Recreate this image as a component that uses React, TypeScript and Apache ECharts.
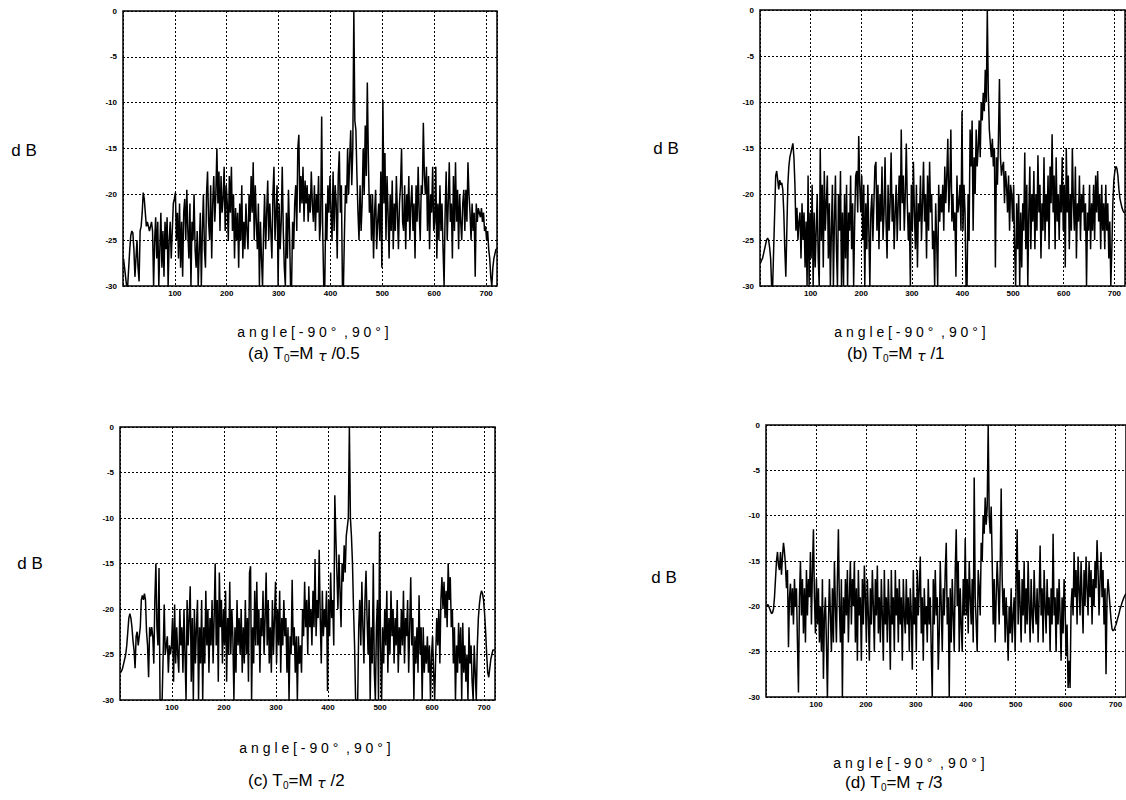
import React, { useEffect, useRef } from "react";
import * as echarts from "echarts";

// sample index of the first point and spacing between samples
const X_START = 1;
const STEP = 2;

const yTicks = [0, -5, -10, -15, -20, -25, -30];
const xTickLabels = [100, 200, 300, 400, 500, 600, 700];

const dbLabel = "d B";
const angleLabel = "a n g l e [ - 9 0 °  , 9 0 ° ]";
const captions = [
  { head: "(a) T", sub: "0", tail: "=M ", tau: "τ", end: " /0.5" },
  { head: "(b) T", sub: "0", tail: "=M ", tau: "τ", end: " /1" },
  { head: "(c) T", sub: "0", tail: "=M ", tau: "τ", end: " /2" },
  { head: "(d) T", sub: "0", tail: "=M ", tau: "τ", end: " /3" },
];

const seriesA = [
  -27, -28, -29, -30, -30, -28, -26, -24.5, -24, -24.2, -26, -29, -27, -25, -28, -29.5, -24, -23.5, -22, -19.8,
  -20.5, -22, -23.5, -23, -23.5, -24, -23.5, -23, -24, -30, -25, -22.5, -27, -23, -30, -26, -22, -28, -24, -29,
  -23, -26, -22.5, -30, -25, -23, -27, -24, -21, -20.5, -19.8, -25, -22, -27, -21, -28, -23, -29, -22, -20.5,
  -25, -19.5, -24, -27, -21, -30, -23, -25, -20, -26, -28, -24, -30, -26, -22, -30, -24, -20, -26, -28,
  -20, -17.5, -23, -25, -19, -27, -21, -18, -23, -20, -15, -21, -17.5, -24, -18, -22, -20.5, -17, -24, -19,
  -21, -25, -18, -22, -17, -24, -20, -27, -21.5, -25, -22, -28, -21, -25, -19, -27, -23, -26, -21, -24,
  -26, -20, -23, -18, -22, -16.5, -25, -19, -23, -26, -21, -30, -23, -27, -30, -24, -20, -26, -22, -18.5,
  -25, -21, -24, -27, -20, -17, -25, -22, -19, -30, -21, -26, -23, -17, -24, -28, -30, -22, -27, -19.5,
  -24, -30, -30, -23, -26, -21, -19, -24, -15, -13.5, -22, -18, -21, -17, -23, -18.5, -21, -19, -23, -20,
  -22, -17.5, -21, -23, -19, -24, -20, -22, -18, -25, -23, -11.5, -24, -30, -30, -21, -25, -19, -22, -18,
  -22, -25, -17.5, -24, -19, -21, -27, -18, -15.3, -22, -19, -30, -30, -24, -19, -21, -15, -20, -16, -13,
  -19, -15, 0, -12, -13, -18, -22, -25, -19, -24, -21, -15, -20, -12.5, -18, -7.8, -16, -22, -20, -25,
  -20, -27, -22, -19.5, -26, -23, -21, -25, -17.5, -28, -9.7, -21, -15.5, -25, -18, -22, -27, -20, -24, -18.5,
  -26, -21, -24, -18, -22, -26, -21, -19, -15, -23, -24, -19, -26, -20, -23, -18, -25, -21, -19, -24,
  -21, -27, -19, -23, -17, -22, -25, -19, -20, -12.2, -18, -20, -17, -24, -18, -26, -20, -22, -17, -24,
  -23, -17, -27, -21, -25, -19, -24, -21, -26, -30, -22, -17.5, -25, -21, -16.5, -23, -21, -27, -18, -24,
  -16.5, -23, -19.5, -26, -20, -23, -25, -21, -19.5, -24, -19.5, -23, -16.5, -20, -22, -25, -21, -24, -22, -29,
  -21, -23, -21.5, -22, -22.5, -21.5, -23, -22, -24, -23.5, -25, -24, -26, -27, -29, -30, -28, -27, -26.5, -26,
  -26,
];

const seriesB = [
  -27.5, -27.2, -27, -26.5, -26, -25.5, -25, -24.8, -25, -25.8, -27, -30, -30, -26, -22, -18, -17.5, -18.5, -19.5, -18.5,
  -19, -18.8, -19.5, -22, -26, -29, -24, -19, -17, -16, -15.5, -15, -14.5, -16, -19, -24, -21.5, -25, -23, -22,
  -27, -21, -25, -22, -28, -23, -30, -18, -30, -22, -27, -19, -30, -22, -28, -24, -20, -27, -30, -15,
  -25, -19, -28, -17.5, -24, -21, -18, -27, -21, -30, -24, -19, -30, -23, -18, -26, -30, -20, -24, -17.5,
  -30, -22, -30, -20, -27, -19, -30, -22, -24, -18, -26, -21, -30, -23, -18, -17.5, -22, -13.7, -19, -22,
  -18, -25, -19, -30, -21, -26, -19, -24, -30, -22, -20, -25, -21, -17, -16.5, -24, -19, -26, -20, -23,
  -17, -25, -22, -16, -23, -27, -19, -24, -21, -15.5, -23, -20, -26, -22, -19, -25, -21, -18, -24, -13,
  -21, -18, -24, -20, -14.5, -21, -25, -22, -30, -19, -24, -16.5, -22, -26, -19, -28, -21, -23, -18, -25,
  -21, -16.5, -23, -20, -27, -18, -24, -16.5, -22, -20, -26, -24, -30, -21, -25, -30, -19, -23, -20, -22,
  -19, -24, -17, -21, -18, -14, -22, -19, -13, -23, -20, -24, -22, -29, -18, -22, -21, -19, -24, -11,
  -24, -19, -22, -30, -30, -20, -25, -13, -17, -12, -24, -16, -20, -13, -17, -15, -12, -16, -10, -12,
  -9, -11, -6.5, -10, 0, -9, -13, -14.5, -16, -14, -17, -15, -28, -16, -19, -14, -7.5, -16, -18, -17,
  -16.5, -21, -17.5, -19, -22, -18, -24, -19, -20, -23, -19, -26, -30, -21, -26, -20, -30, -22, -28, -21,
  -24, -15.5, -26, -19, -30, -22, -17, -26, -20, -23, -17.5, -26, -20, -24, -15.8, -22, -19, -27, -21, -24,
  -16, -25, -20, -23, -18, -26, -17, -21, -13.5, -22, -18, -26, -16, -23, -20, -25, -19, -22, -16, -24,
  -19, -28, -15, -22, -18, -26, -20, -24, -15, -21, -24, -17, -27, -21, -23, -18, -25, -20, -22, -19,
  -24, -21, -30, -22, -24, -19, -26, -21, -24, -19, -25, -18, -22, -17.5, -23, -20, -26, -19, -24, -21,
  -26, -19, -24, -21, -27, -23, -30, -26, -21, -18.5, -17.5, -17, -17.2, -18, -19.5, -20.5, -21, -21.5, -21.8, -22,
  -22,
];

const seriesC = [
  -27, -26.8, -26.5, -26, -25.5, -25, -24, -22.5, -21, -20.5, -21, -22, -23.5, -24.5, -26.5, -23, -22.5, -24, -23, -22,
  -19, -18.5, -19, -18.3, -19, -22.5, -24, -27.5, -22, -23, -22, -23, -26, -19, -15, -22, -24, -15.5, -30, -30,
  -30, -25, -19.5, -25, -24, -23, -27, -24, -25, -24, -21, -28, -19.5, -26, -22, -25, -27, -20, -24, -22,
  -27, -20, -25, -30, -19, -24, -21, -17.5, -28, -21, -30, -20, -26, -22, -19, -30, -22, -26, -19, -30,
  -22, -26, -18, -24, -20, -27, -21, -24, -19, -26, -21, -15, -24, -19, -28, -16, -22, -19, -26, -20,
  -24, -18, -28, -21, -25, -17, -25, -20, -23, -30, -22, -27, -19, -24, -21, -25, -20, -27, -22, -26,
  -19, -25, -21, -28, -16, -15.3, -30, -22, -26, -18, -24, -17, -24, -20, -27, -21, -23, -18, -25, -21,
  -16, -24, -19, -26, -22, -27, -19, -25, -21, -17, -26, -20, -24, -18, -27, -21, -24, -19, -23, -21,
  -27, -22, -30, -23, -25, -16.8, -24, -22, -27, -23, -30, -23, -26, -24, -27, -20, -23, -17, -22, -19,
  -25, -17.5, -22, -20, -24, -18, -22, -14.5, -23, -19, -21, -13.5, -21, -26, -18, -23, -20, -22, -18, -29,
  -19, -23, -16, -21, -19, -24, -7.5, -12, -16, -20, -14, -18, -22, -15, -17, -13, -16, -12, -11, -10,
  0, -10, -12, -15, -20, -24, -30, -30, -30, -22, -19, -24, -17, -22, -26, -19, -15.8, -21, -25, -19,
  -30, -22, -26, -15, -27, -30, -22, -19, -30, -11.5, -24, -30, -22, -26, -20, -24, -18, -27, -21, -25,
  -18, -23, -20, -26, -21, -24, -19, -27, -22, -25, -20, -24, -18, -26, -21, -23, -19, -27, -22, -16.5,
  -24, -21, -30, -23, -26, -22, -27, -18.5, -25, -22, -30, -22, -27, -24, -26, -23, -27, -24, -30, -25,
  -23, -27, -30, -25, -21, -24, -20, -26, -19, -16.5, -20, -17, -21, -18, -22, -15, -19, -16.5, -22, -20,
  -26, -22, -30, -24, -27, -21.5, -26, -22, -30, -21.5, -27, -24, -28, -25, -30, -22, -26, -24, -28, -30,
  -24, -27, -30, -24, -21, -19.5, -18.5, -18, -18.3, -19, -20.5, -22.5, -25, -27, -27.5, -26.5, -25.5, -25, -24.5, -24.5,
  -24.5,
];

const seriesD = [
  -20, -19.8, -19.9, -20.2, -20.5, -20.8, -20.7, -20.3, -19, -17, -15, -14, -15.5, -16, -14, -16.5, -14.5, -13, -14, -15.5,
  -18, -16, -24.5, -19, -17.5, -21, -18, -22, -17, -20, -18, -24, -29.5, -19, -15, -21, -17, -23, -18, -24,
  -16, -21, -17, -19, -14, -22, -16, -11.5, -19, -23, -17, -22, -18, -24, -20, -25, -17, -28, -21, -19,
  -24, -30, -22, -17, -21, -25, -18, -24, -15, -20, -24, -17, -11.5, -20, -24, -17, -30, -19, -23, -17,
  -21, -16, -24, -19, -15, -22, -17, -20, -15, -24, -18, -26, -16, -21, -19, -26, -17, -22, -15.5, -19,
  -24, -17, -21, -26, -18, -22, -16, -20, -25, -17, -21, -15.5, -23, -19, -24, -17, -21, -26, -16, -22,
  -19, -24, -17, -21, -27, -16, -22, -19, -25, -16, -21, -18, -24, -17, -22, -19, -26, -17, -21, -23,
  -17, -22, -19, -25, -18, -21, -27, -16, -22, -19, -25, -16, -21, -18, -14.5, -23, -19, -26, -18, -22,
  -20, -24, -17, -22, -19, -25, -30, -17, -22, -16, -21, -19, -27, -23, -15, -20, -25, -18, -21, -16,
  -13, -22, -19, -30, -18, -24, -17, -21, -25, -16, -11.5, -20, -15, -25, -18, -22, -25, -17, -21, -12.5,
  -21, -17, -23, -15, -19, -22, -17, -24, -5.8, -19, -22, -25, -16, -18, -21, -13, -15, -10, -12, -8,
  -11, -9, 0, -10, -12, -9, -15, -22, -17, -24, -19, -15, -18, -22, -16, -7, -17, -21, -18, -24,
  -19, -22, -26, -20, -23, -18, -24, -21, -19, -25, -17, -11.5, -22, -16, -20, -24, -17, -21, -15, -23,
  -18, -22, -15, -20, -24, -17, -21, -23, -16, -20, -22, -18, -24, -19, -13.3, -21, -18, -24, -16, -20,
  -23, -17, -21, -19, -25, -18, -22, -12, -21, -19, -25, -18, -22, -17, -21, -26, -19, -23, -17, -20,
  -25.5, -22, -29, -26, -29, -20, -18, -21, -14, -19, -16, -22, -14.5, -18, -21, -15, -19, -23, -16, -20,
  -14.5, -18, -21, -15, -19, -16, -22, -17, -20, -15, -18, -12.7, -16, -21, -17, -14, -19, -16, -22, -18,
  -27.5, -19, -17, -18.5, -20, -21.5, -22.5, -22.7, -22.6, -22.3, -22, -21.6, -21.2, -20.8, -20.3, -20, -19.6, -19.3, -19, -18.8,
  -18.6,
];

const allSeries = [seriesA, seriesB, seriesC, seriesD];

// layout of each panel (pixels)
const layouts = [
  { grid: { left: 123, top: 11, width: 374, height: 275 }, db: [24, 150], angle: [313, 332], cap: [248, 353] },
  { grid: { left: 760, top: 10, width: 365, height: 276 }, db: [666, 148], angle: [910, 332], cap: [847, 353] },
  { grid: { left: 120, top: 427, width: 375, height: 273 }, db: [30, 563], angle: [315, 748], cap: [248, 780] },
  { grid: { left: 766, top: 425, width: 360, height: 272 }, db: [664, 577], angle: [909, 763], cap: [845, 782] },
];

const toPairs = (ys: number[]) => ys.map((y, i) => [X_START + i * STEP, y]);

export default function App() {
  const ref = useRef<HTMLDivElement>(null);
  useEffect(() => {
    const chart = echarts.init(ref.current!, null, { renderer: "svg" });
    const labelFont = { color: "#000", fontSize: 8, fontWeight: "bold" as const, fontFamily: "Liberation Sans, Arial, sans-serif" };
    const grids = layouts.map((l) => ({
      ...l.grid,
      show: true,
      borderColor: "#000",
      borderWidth: 1.5,
      backgroundColor: "transparent",
      containLabel: false,
    }));
    const xAxes = layouts.map((_, i) => ({
      type: "value" as const,
      gridIndex: i,
      min: 0,
      max: 721,
      interval: 100,
      axisLine: { show: false },
      axisTick: { show: false },
      axisLabel: {
        ...labelFont,
        margin: 3,
        showMinLabel: false,
        showMaxLabel: false,
        formatter: (v: number) => (xTickLabels.includes(v) ? String(v) : ""),
      },
      splitLine: { show: true, lineStyle: { color: "#000", type: [2, 2], width: 1 } },
    }));
    const yAxes = layouts.map((_, i) => ({
      type: "value" as const,
      gridIndex: i,
      min: yTicks[yTicks.length - 1],
      max: yTicks[0],
      interval: 5,
      axisLine: { show: false },
      axisTick: { show: false },
      axisLabel: { ...labelFont, margin: 6 },
      splitLine: { show: true, lineStyle: { color: "#000", type: [2, 2], width: 1 } },
    }));
    const series = allSeries.map((s, i) => ({
      type: "line" as const,
      xAxisIndex: i,
      yAxisIndex: i,
      data: toPairs(s),
      showSymbol: false,
      symbol: "none",
      clip: true,
      lineStyle: { color: "#000", width: 1.5 },
    }));
    const graphic: any[] = [];
    layouts.forEach((l, i) => {
      graphic.push({
        type: "text",
        x: l.db[0],
        y: l.db[1],
        style: {
          text: dbLabel,
          fill: "#000",
          font: "17px 'Liberation Sans', Arial, sans-serif",
          align: "center",
          verticalAlign: "middle",
        },
      });
      graphic.push({
        type: "text",
        x: l.angle[0],
        y: l.angle[1],
        style: {
          text: angleLabel,
          fill: "#000",
          font: "14px 'Liberation Sans', Arial, sans-serif",
          align: "center",
          verticalAlign: "middle",
        },
      });
      const c = captions[i];
      graphic.push({
        type: "text",
        x: l.cap[0],
        y: l.cap[1],
        style: {
          text: `{m|${c.head}}{s|${c.sub}}{m|${c.tail}}{t|${c.tau}}{m|${c.end}}`,
          fill: "#000",
          align: "left",
          verticalAlign: "middle",
          rich: {
            m: { fontSize: 17, fontFamily: "'Liberation Sans', Arial, sans-serif", fill: "#000", lineHeight: 20, verticalAlign: "middle" },
            s: { fontSize: 10, fontFamily: "'Liberation Sans', Arial, sans-serif", fill: "#000", lineHeight: 20, verticalAlign: "bottom" },
            t: { fontSize: 14, fontStyle: "italic", fontFamily: "'DejaVu Sans', sans-serif", fill: "#000", lineHeight: 20, verticalAlign: "bottom" },
          },
        },
      });
    });
    chart.setOption({
      animation: false,
      backgroundColor: "#fff",
      grid: grids,
      xAxis: xAxes,
      yAxis: yAxes,
      series,
      graphic,
    });
    return () => chart.dispose();
  }, []);
  return (
    <div
      ref={ref}
      style={{ position: "fixed", left: 0, top: 0, width: 1126, height: 800, background: "#fff" }}
    />
  );
}
